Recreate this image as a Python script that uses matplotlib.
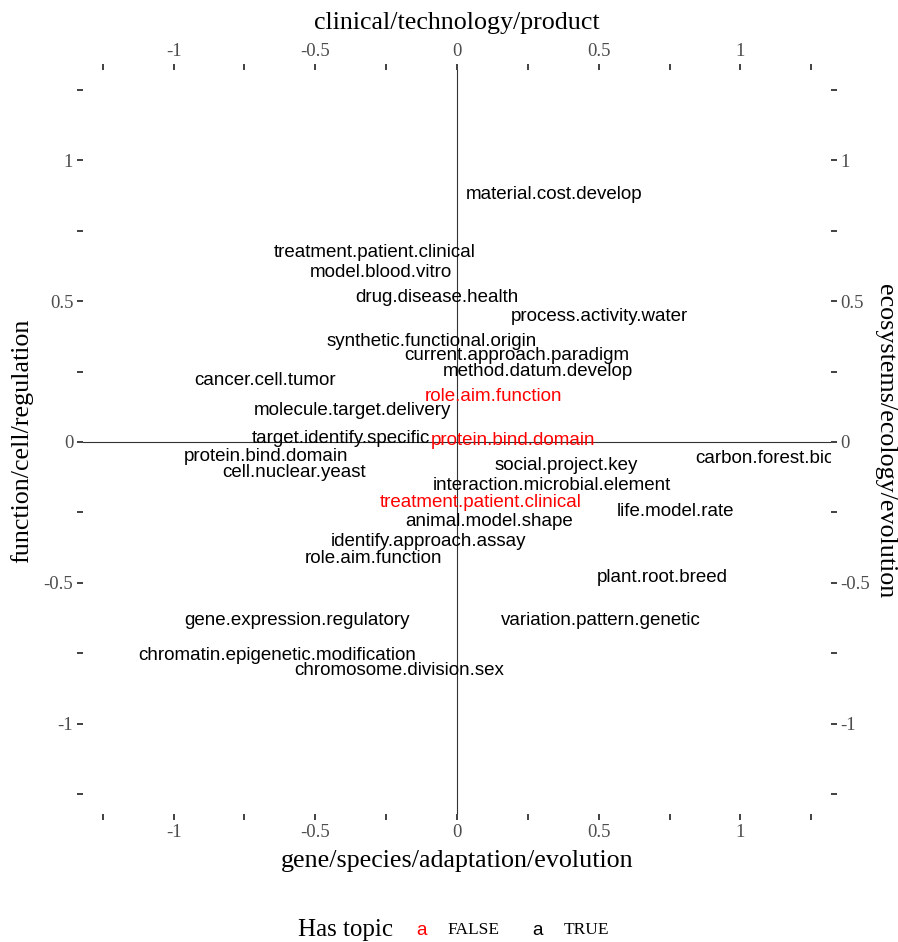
import matplotlib
matplotlib.use("Agg")
import matplotlib.pyplot as plt

# topic labels and their positions on the two axes
labels = [
    "material.cost.develop", "treatment.patient.clinical", "model.blood.vitro",
    "drug.disease.health", "process.activity.water", "synthetic.functional.origin",
    "current.approach.paradigm", "method.datum.develop", "cancer.cell.tumor",
    "role.aim.function", "molecule.target.delivery", "target.identify.specific",
    "protein.bind.domain", "protein.bind.domain", "cell.nuclear.yeast",
    "social.project.key", "carbon.forest.biomass", "interaction.microbial.element",
    "treatment.patient.clinical", "life.model.rate", "animal.model.shape",
    "identify.approach.assay", "role.aim.function", "plant.root.breed",
    "gene.expression.regulatory", "variation.pattern.genetic",
    "chromatin.epigenetic.modification", "chromosome.division.sex",
]
x_vals = [0.342, -0.291, -0.268, -0.072, 0.501, -0.090, 0.212, 0.284, -0.679,
          0.129, -0.370, -0.409, 0.198, -0.675, -0.575, 0.384, 1.165, 0.335,
          0.083, 0.772, 0.113, -0.102, -0.296, 0.725, -0.566, 0.508, -0.635, -0.205]
y_vals = [0.877, 0.671, 0.600, 0.512, 0.444, 0.355, 0.306, 0.249, 0.217,
          0.163, 0.110, 0.014, 0.004, -0.050, -0.110, -0.082, -0.060, -0.153,
          -0.213, -0.245, -0.281, -0.352, -0.412, -0.480, -0.632, -0.632, -0.757, -0.810]
has_topic = [True, True, True, True, True, True, True, True, True,
             False, True, True, False, True, True, True, True, True,
             False, True, True, True, True, True, True, True, True, True]

ticks = [-1.25, -1, -0.75, -0.5, -0.25, 0, 0.25, 0.5, 0.75, 1, 1.25]
tick_labels = ["", "-1", "", "-0.5", "", "0", "", "0.5", "", "1", ""]

SERIF = "Liberation Serif"
SANS = "Liberation Sans"

fig = plt.figure(figsize=(8.98, 9.42), dpi=100)
ax = fig.add_axes([0.0924, 0.1359, 0.8330, 0.7898])
ax.set_xlim(-1.32, 1.32)
ax.set_ylim(-1.32, 1.32)

ax.axhline(0, color="#333333", lw=0.8, zorder=1)
ax.axvline(0, color="#333333", lw=0.8, zorder=1)

for lab, x, y, flag in zip(labels, x_vals, y_vals, has_topic):
    ax.text(x, y, lab, ha="center", va="center", fontsize=13.5, family=SANS,
            color="black" if flag else "#FF0000", clip_on=True, zorder=2)

for s in ax.spines.values():
    s.set_visible(False)

ax.set_xticks(ticks)
ax.set_xticklabels(tick_labels)
ax.set_yticks(ticks)
ax.set_yticklabels(tick_labels)
ax.tick_params(which="both", direction="out", length=4.5, width=1.3, color="#333333",
               labelcolor="#4d4d4d", labelsize=13.5, pad=2.5,
               top=True, right=True, labeltop=True, labelright=True)
for t in ax.get_xticklabels() + ax.get_yticklabels():
    t.set_family(SERIF)

# axis titles on all four sides
fig.text(0.509, 0.9755, "clinical/technology/product", family=SERIF, fontsize=18.7,
         ha="center", va="center")
fig.text(0.509, 0.0860, "gene/species/adaptation/evolution", family=SERIF, fontsize=18.7,
         ha="center", va="center")
fig.text(0.0245, 0.532, "function/cell/regulation", family=SERIF, fontsize=18.7,
         ha="center", va="center", rotation=90)
fig.text(0.9855, 0.532, "ecosystems/ecology/evolution", family=SERIF, fontsize=18.7,
         ha="center", va="center", rotation=270)

# legend row
fig.text(0.332, 0.0127, "Has topic", family=SERIF, fontsize=18, va="center")
fig.text(0.4635, 0.0127, "a", family=SANS, fontsize=13.5, color="#FF0000", va="center")
fig.text(0.498, 0.0127, "FALSE", family=SERIF, fontsize=12.5, va="center")
fig.text(0.5925, 0.0127, "a", family=SANS, fontsize=13.5, color="black", va="center")
fig.text(0.628, 0.0127, "TRUE", family=SERIF, fontsize=12.5, va="center")

fig.savefig("out.png", dpi=100)
